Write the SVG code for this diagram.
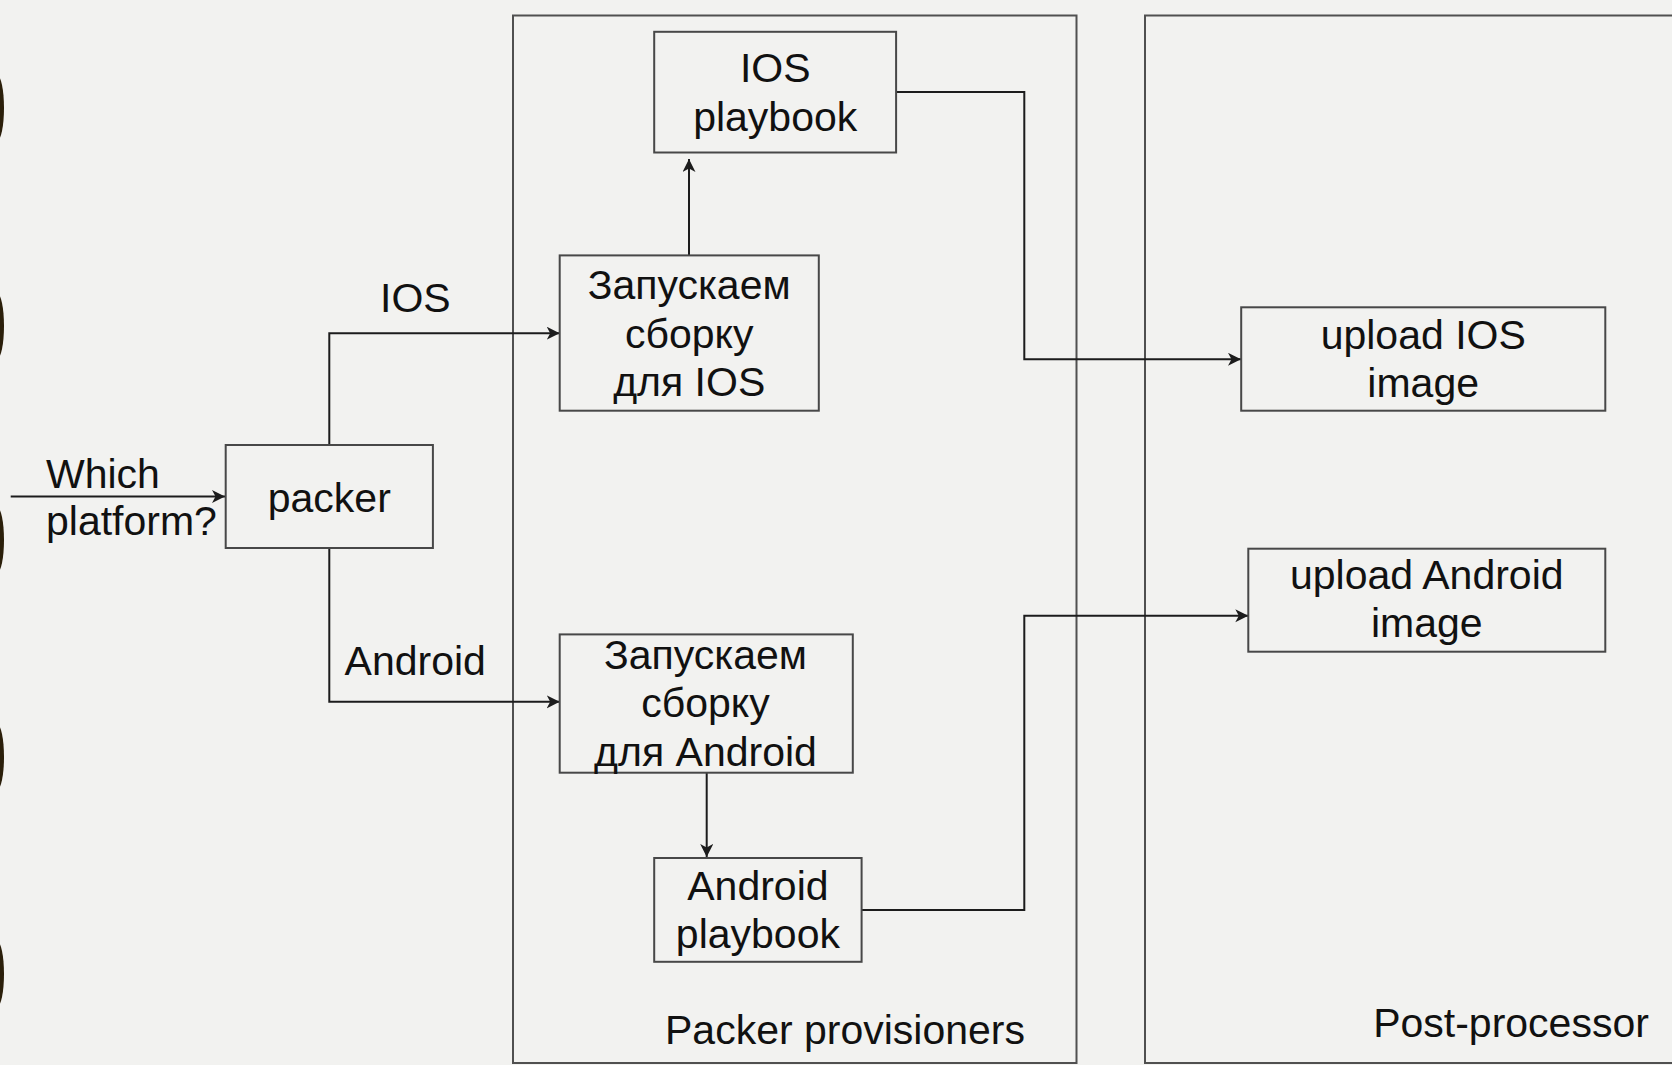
<svg xmlns="http://www.w3.org/2000/svg" width="1672" height="1065" viewBox="0 0 1672 1065">
<style>
.bg{fill:#f2f2f0}
.box{fill:none;stroke:#484848;stroke-width:2}
.cont{fill:none;stroke:#505050;stroke-width:2}
.ln{fill:none;stroke:#1c1c1c;stroke-width:2;marker-end:url(#arr)}
.ln2{fill:none;stroke:#1c1c1c;stroke-width:2}
text{font-family:"Liberation Sans",Arial,sans-serif;font-size:41px;fill:#111}
.c{text-anchor:middle}
.hole{fill:#2b1f0a}
</style>
<defs>
<marker id="arr" markerUnits="userSpaceOnUse" markerWidth="14" markerHeight="14" refX="13" refY="6.5" orient="auto">
<path d="M0,0 L13,6.5 L0,13 L3.5,6.5 Z" fill="#1c1c1c"/>
</marker>
</defs>
<rect class="bg" x="0" y="0" width="1672" height="1065"/>
<g id="holes">
<ellipse class="hole" cx="-3" cy="108" rx="7" ry="33"/>
<ellipse class="hole" cx="-3" cy="326" rx="7" ry="33"/>
<ellipse class="hole" cx="-3" cy="540" rx="7" ry="33"/>
<ellipse class="hole" cx="-3" cy="757" rx="7" ry="33"/>
<ellipse class="hole" cx="-3" cy="974" rx="7" ry="33"/>
</g>
<g id="packer-provisioners">
<rect class="cont" x="513" y="15.5" width="563.5" height="1047.5"/>
<text x="845" y="1043.5" class="c">Packer provisioners</text>
</g>
<g id="post-processor">
<rect class="cont" x="1145" y="15.5" width="600" height="1047.5"/>
<text x="1511" y="1037" class="c">Post-processor</text>
</g>
<g id="connectors">
<path class="ln" d="M10.7,496.5 H225"/>
<path class="ln" d="M329.3,445 V333.2 H559.7"/>
<path class="ln" d="M329.3,548 V701.8 H559.7"/>
<path class="ln" d="M689,255.4 V159"/>
<path class="ln" d="M706.7,772.7 V857"/>
<path class="ln" d="M896,92 H1024.3 V359.3 H1241"/>
<path class="ln" d="M861.6,910 H1024.3 V615.7 H1248.3"/>
<text x="46" y="487.5">Which</text>
<text x="46" y="535">platform?</text>
<text x="380" y="312">IOS</text>
<text x="344.6" y="675">Android</text>
</g>
<g id="packer">
<rect class="box" x="225.7" y="445" width="207.2" height="103"/>
<text x="329.3" y="511.5" class="c">packer</text>
</g>
<g id="ios-playbook">
<rect class="box" x="654.2" y="31.8" width="241.9" height="120.7"/>
<text x="775.2" y="82" class="c">IOS</text>
<text x="775.2" y="131.4" class="c">playbook</text>
</g>
<g id="build-ios">
<rect class="box" x="559.7" y="255.4" width="259.1" height="155.3"/>
<text x="689.2" y="299.3" class="c">Запускаем</text>
<text x="689.2" y="348" class="c">сборку</text>
<text x="689.2" y="395.7" class="c">для IOS</text>
</g>
<g id="build-android">
<rect class="box" x="559.7" y="634.4" width="293.1" height="138.3"/>
<text x="705.5" y="668.9" class="c">Запускаем</text>
<text x="705.5" y="717.4" class="c">сборку</text>
<text x="705.5" y="766" class="c">для Android</text>
</g>
<g id="android-playbook">
<rect class="box" x="654.2" y="858" width="207.4" height="103.8"/>
<text x="757.9" y="899.9" class="c">Android</text>
<text x="757.9" y="947.8" class="c">playbook</text>
</g>
<g id="upload-ios">
<rect class="box" x="1241.2" y="307.3" width="364.1" height="103.4"/>
<text x="1423.2" y="349" class="c">upload IOS</text>
<text x="1423.2" y="396.7" class="c">image</text>
</g>
<g id="upload-android">
<rect class="box" x="1248.3" y="548.7" width="357" height="103"/>
<text x="1426.8" y="589.3" class="c">upload Android</text>
<text x="1426.8" y="636.7" class="c">image</text>
</g>
</svg>
